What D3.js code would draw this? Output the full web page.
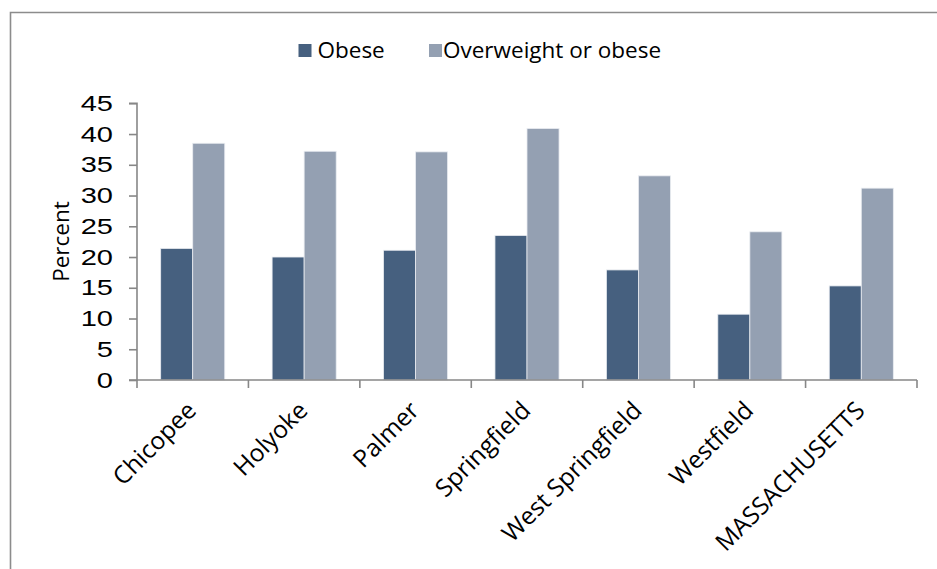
<!DOCTYPE html>
<html>
<head>
<meta charset="utf-8">
<script src="https://cdn.jsdelivr.net/npm/d3@7"></script>
<style>
  html, body { margin: 0; padding: 0; background: #ffffff; }
  svg { display: block; }
</style>
</head>
<body>
<svg id="chart" width="937" height="569"></svg>
<script>
// ---- data ----
const categories = ["Chicopee", "Holyoke", "Palmer", "Springfield", "West Springfield", "Westfield", "MASSACHUSETTS"];
const seriesNames = ["Obese", "Overweight or obese"];
const obese = [21.4, 20.0, 21.1, 23.5, 17.9, 10.7, 15.3];
const overweightOrObese = [38.5, 37.2, 37.1, 40.9, 33.2, 24.1, 31.2];
const yTickValues = [0, 5, 10, 15, 20, 25, 30, 35, 40, 45];
const yAxisTitle = "Percent";

// ---- layout ----
const colors = ["#46607f", "#94a0b2"];
const axisColor = "#878787";
const svg = d3.select("#chart");

const plotLeft = 137, plotRight = 917, plotTop = 103.3, plotBottom = 380;

const x = d3.scaleBand().domain(categories).range([plotLeft, plotRight]).paddingInner(0).paddingOuter(0);
const groupW = x.bandwidth() * 0.575;
const x1 = d3.scaleBand().domain(seriesNames)
  .range([(x.bandwidth() - groupW) / 2, (x.bandwidth() + groupW) / 2]).padding(0);
const y = d3.scaleLinear().domain([0, 45]).range([plotBottom, plotTop]);

// outer frame (chart area border, clipped by window on right/bottom)
svg.append("path")
  .attr("d", "M10.5,575 L10.5,12.5 L945,12.5")
  .attr("fill", "none")
  .attr("stroke", "#8c8c8c")
  .attr("stroke-width", 1.6);

// bars
const rows = categories.map((c, i) => ({ cat: c, vals: [obese[i], overweightOrObese[i]] }));
const groups = svg.append("g").selectAll("g").data(rows).join("g")
  .attr("transform", d => `translate(${x(d.cat)},0)`);
groups.selectAll("rect")
  .data(d => d.vals.map((v, k) => ({ s: seriesNames[k], v, k })))
  .join("rect")
  .attr("x", d => x1(d.s))
  .attr("width", x1.bandwidth())
  .attr("y", d => y(d.v))
  .attr("height", d => y(0) - y(d.v))
  .attr("fill", d => colors[d.k])
  .attr("stroke", "#e9ecf1")
  .attr("stroke-width", 0.8);

// y axis
const yAxis = d3.axisLeft(y).tickValues(yTickValues).tickSize(8).tickFormat("");
const yg = svg.append("g").attr("transform", `translate(${plotLeft},0)`).call(yAxis);
yg.select(".domain").attr("stroke", axisColor).attr("stroke-width", 1.6)
  .attr("d", `M-8,${plotTop}H0V${plotBottom}H-8`);
yg.selectAll(".tick line").attr("stroke", axisColor).attr("stroke-width", 1.6);

// y tick labels (widened digits as in the reference)
svg.append("g").selectAll("g").data(yTickValues).join("g")
  .attr("transform", d => `translate(113,${y(d)}) scale(1.35,1)`)
  .append("text")
  .attr("text-anchor", "end")
  .attr("dy", "0.358em")
  .attr("font-family", "'Liberation Sans', Arial, sans-serif")
  .attr("font-size", 21.5)
  .attr("fill", "#000")
  .text(d => d);

// x axis line with ticks at category boundaries
const xg = svg.append("g").attr("transform", `translate(0,${plotBottom})`);
xg.append("line").attr("x1", plotLeft).attr("x2", plotRight).attr("y1", 0).attr("y2", 0)
  .attr("stroke", axisColor).attr("stroke-width", 1.6);
const boundaries = categories.map(c => x(c)).concat([x(categories[categories.length - 1]) + x.bandwidth()]);
xg.selectAll("line.tk").data(boundaries).join("line").attr("class", "tk")
  .attr("x1", d => d).attr("x2", d => d).attr("y1", 0).attr("y2", 8)
  .attr("stroke", axisColor).attr("stroke-width", 1.6);

// x labels rotated -45°
svg.append("g").selectAll("text").data(categories).join("text")
  .attr("transform", d => `translate(${x(d) + x.bandwidth() / 2 + 5},412) rotate(-45)`)
  .attr("text-anchor", "end")
  .attr("font-family", "'Open Sans', sans-serif")
  .attr("font-size", 24.5)
  .attr("fill", "#000")
  .text(d => d);

// y axis title
svg.append("text")
  .attr("transform", "translate(68.5,241.5) rotate(-90)")
  .attr("text-anchor", "middle")
  .attr("font-family", "'Open Sans', sans-serif")
  .attr("font-size", 22.5)
  .attr("fill", "#000")
  .text(yAxisTitle);

// legend
const legendItems = [{ name: seriesNames[0], sq: 298.5, tx: 317.5 }, { name: seriesNames[1], sq: 429, tx: 443 }];
const lg = svg.append("g").selectAll("g").data(legendItems).join("g");
lg.append("rect").attr("x", d => d.sq).attr("y", 44).attr("width", 13).attr("height", 13)
  .attr("fill", (d, i) => colors[i]);
lg.append("text").attr("x", d => d.tx).attr("y", 58)
  .attr("font-family", "'Open Sans', sans-serif")
  .attr("font-size", 22.5)
  .attr("fill", "#000")
  .text(d => d.name);
</script>
</body>
</html>
